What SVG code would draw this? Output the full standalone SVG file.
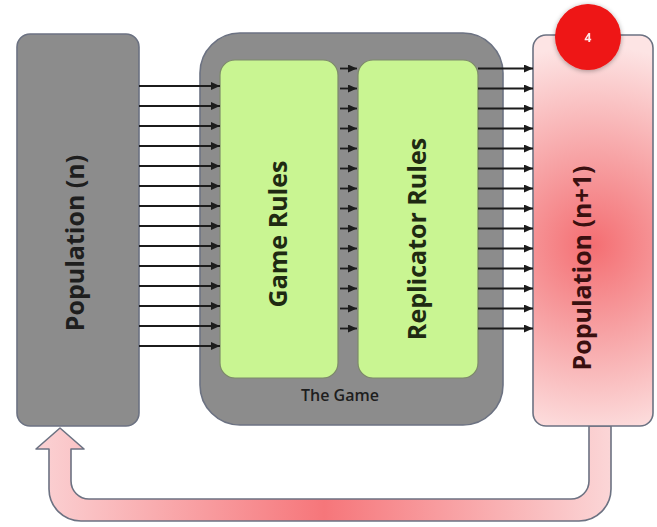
<svg xmlns="http://www.w3.org/2000/svg" width="657" height="527" viewBox="0 0 657 527">
  <defs>
    <style>
      .box { stroke: #6c7282; stroke-width: 1.6; }
      .gray { fill: #8c8c8c; }
      .green { fill: #c9f592; stroke: #7d8a6a; stroke-width: 1.2; }
      .label { font-family: "Open Sans", "DejaVu Sans", sans-serif; font-weight: 700; font-size: 25px; text-anchor: middle; }
      .link { stroke: #1c1c1c; stroke-width: 1.8; fill: none; marker-end: url(#head); }
    </style>
    <marker id="head" markerWidth="9" markerHeight="8" refX="9" refY="4" orient="auto" markerUnits="userSpaceOnUse">
      <path d="M0,0 L9,4 L0,8 Z" fill="#1c1c1c"/>
    </marker>
    <radialGradient id="pinkBox" gradientUnits="userSpaceOnUse" cx="593" cy="245" r="200">
      <stop offset="0" stop-color="#f46e72"/>
      <stop offset="0.45" stop-color="#f7a3a5"/>
      <stop offset="1" stop-color="#fde4e4"/>
    </radialGradient>
    <linearGradient id="loopFill" gradientUnits="userSpaceOnUse" x1="36" y1="0" x2="612" y2="0">
      <stop offset="0" stop-color="#fbd2d4"/>
      <stop offset="0.5" stop-color="#f6767a"/>
      <stop offset="1" stop-color="#fbd6d7"/>
    </linearGradient>
    <filter id="soft" x="-30%" y="-30%" width="160%" height="160%">
      <feGaussianBlur in="SourceAlpha" stdDeviation="2.5"/>
      <feOffset dx="0" dy="1"/>
      <feComponentTransfer><feFuncA type="linear" slope="0.35"/></feComponentTransfer>
      <feMerge><feMergeNode/><feMergeNode in="SourceGraphic"/></feMerge>
    </filter>
  </defs>

  <rect width="657" height="527" fill="#ffffff"/>

  <!-- feedback loop: Population (n+1) back to Population (n) -->
  <g id="feedback">
    <path d="M60,428 L84,449 L71,449 L71,481 A18,18 0 0 0 89,499 L571,499 A18,18 0 0 0 589,481 L589,426 L611,426 L611,489 A32,32 0 0 1 579,521 L81,521 A32,32 0 0 1 49,489 L49,449 L36,449 Z"
          fill="url(#loopFill)" stroke="#6c7282" stroke-width="1.6" stroke-linejoin="round"/>
  </g>

  <g id="population-n">
    <rect class="box gray" x="17" y="34" width="122" height="392" rx="13"/>
    <text class="label" fill="#1e1e1e" transform="translate(84,243) rotate(-90)">Population (n)</text>
  </g>

  <g id="the-game">
    <rect class="box gray" x="200" y="33" width="303" height="392" rx="40"/>
    <text x="340" y="401" font-family="'Open Sans', 'DejaVu Sans', sans-serif" font-weight="600" font-size="16" fill="#1e1e1e" text-anchor="middle">The Game</text>
  </g>

  <g id="game-rules">
    <rect class="green" x="220" y="60" width="118" height="318" rx="15"/>
    <text class="label" fill="#1f2a12" transform="translate(287,234) rotate(-90)">Game Rules</text>
  </g>

  <g id="replicator-rules">
    <rect class="green" x="358" y="60" width="120" height="318" rx="15"/>
    <text class="label" fill="#1f2a12" transform="translate(426,239) rotate(-90)">Replicator Rules</text>
  </g>

  <g id="population-n1">
    <rect class="box" fill="url(#pinkBox)" x="533" y="35" width="120" height="391" rx="13"/>
    <text class="label" fill="#3a1010" transform="translate(591,268) rotate(-90)">Population (n+1)</text>
  </g>

  <g id="step-badge" filter="url(#soft)">
    <circle cx="588" cy="37" r="33" fill="#ee1414"/>
    <text x="588" y="41.5" font-family="'Open Sans', 'DejaVu Sans', sans-serif" font-weight="700" font-size="12" fill="#ffe8e8" text-anchor="middle">4</text>
  </g>

  <g id="connectors">
    <!-- Population (n) into Game Rules -->
    <path class="link" d="M139,86 H220"/>
    <path class="link" d="M139,106 H220"/>
    <path class="link" d="M139,126 H220"/>
    <path class="link" d="M139,146 H220"/>
    <path class="link" d="M139,166 H220"/>
    <path class="link" d="M139,186 H220"/>
    <path class="link" d="M139,206 H220"/>
    <path class="link" d="M139,226 H220"/>
    <path class="link" d="M139,246 H220"/>
    <path class="link" d="M139,266 H220"/>
    <path class="link" d="M139,286 H220"/>
    <path class="link" d="M139,306 H220"/>
    <path class="link" d="M139,326 H220"/>
    <path class="link" d="M139,346 H220"/>
    <!-- Game Rules into Replicator Rules -->
    <path class="link" d="M340,68.5 H357"/>
    <path class="link" d="M340,88.5 H357"/>
    <path class="link" d="M340,108.5 H357"/>
    <path class="link" d="M340,128.5 H357"/>
    <path class="link" d="M340,148.5 H357"/>
    <path class="link" d="M340,168.5 H357"/>
    <path class="link" d="M340,188.5 H357"/>
    <path class="link" d="M340,208.5 H357"/>
    <path class="link" d="M340,228.5 H357"/>
    <path class="link" d="M340,248.5 H357"/>
    <path class="link" d="M340,268.5 H357"/>
    <path class="link" d="M340,288.5 H357"/>
    <path class="link" d="M340,308.5 H357"/>
    <path class="link" d="M340,328.5 H357"/>
    <!-- Replicator Rules into Population (n+1) -->
    <path class="link" d="M478,68.5 H533"/>
    <path class="link" d="M478,88.5 H533"/>
    <path class="link" d="M478,108.5 H533"/>
    <path class="link" d="M478,128.5 H533"/>
    <path class="link" d="M478,148.5 H533"/>
    <path class="link" d="M478,168.5 H533"/>
    <path class="link" d="M478,188.5 H533"/>
    <path class="link" d="M478,208.5 H533"/>
    <path class="link" d="M478,228.5 H533"/>
    <path class="link" d="M478,248.5 H533"/>
    <path class="link" d="M478,268.5 H533"/>
    <path class="link" d="M478,288.5 H533"/>
    <path class="link" d="M478,308.5 H533"/>
    <path class="link" d="M478,328.5 H533"/>
  </g>
</svg>
